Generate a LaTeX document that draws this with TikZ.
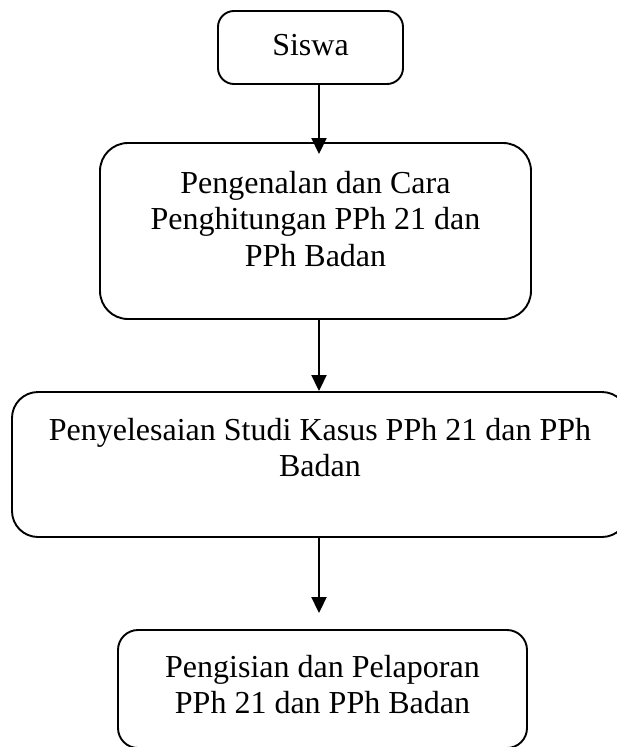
\documentclass[tikz,border=0pt]{standalone}
\usepackage{fontspec}
\setmainfont{Liberation Serif}
\usetikzlibrary{arrows.meta}
\newcommand{\boxtext}[4]{\parbox[c][#1][t]{#2}{\centering\rule{0pt}{#3}#4}}
\begin{document}
\begin{tikzpicture}[x=1pt,y=1pt,
    every node/.style={font=\fontsize{32}{36.5}\selectfont},
    flowbox/.style={draw,line width=1.9pt,inner sep=0pt},
    flow/.style={line width=1.9pt,-{Triangle[length=16pt,width=15pt]}}]
    \clip (0,0) rectangle (617,-747);
    \coordinate (axis) at (319,0);
    \node[flowbox,rounded corners=16pt] (siswa) at (310.5,-47.5)
        {\boxtext{73pt}{185pt}{44pt}{Siswa}};
    \node[flowbox,rounded corners=28pt] (pengenalan) at (315.5,-231)
        {\boxtext{176pt}{431pt}{50pt}{Pengenalan dan Cara\\
        Penghitungan PPh 21 dan\\PPh Badan}};
    \node[flowbox,rounded corners=26pt] (penyelesaian) at (320,-464.5)
        {\boxtext{145pt}{616pt}{48pt}{Penyelesaian Studi Kasus PPh 21 dan PPh\\
        Badan}};
    \node[flowbox,rounded corners=20pt] (pengisian) at (322.5,-689)
        {\boxtext{118pt}{409pt}{47pt}{Pengisian dan Pelaporan\\
        PPh 21 dan PPh Badan}};
    \draw[flow,shorten >=-12pt] (siswa.south -| axis) -- (pengenalan.north -| axis);
    \draw[flow] (pengenalan.south -| axis) -- (penyelesaian.north -| axis);
    \draw[flow,shorten >=16pt] (penyelesaian.south -| axis) -- (pengisian.north -| axis);
\end{tikzpicture}
\end{document}
